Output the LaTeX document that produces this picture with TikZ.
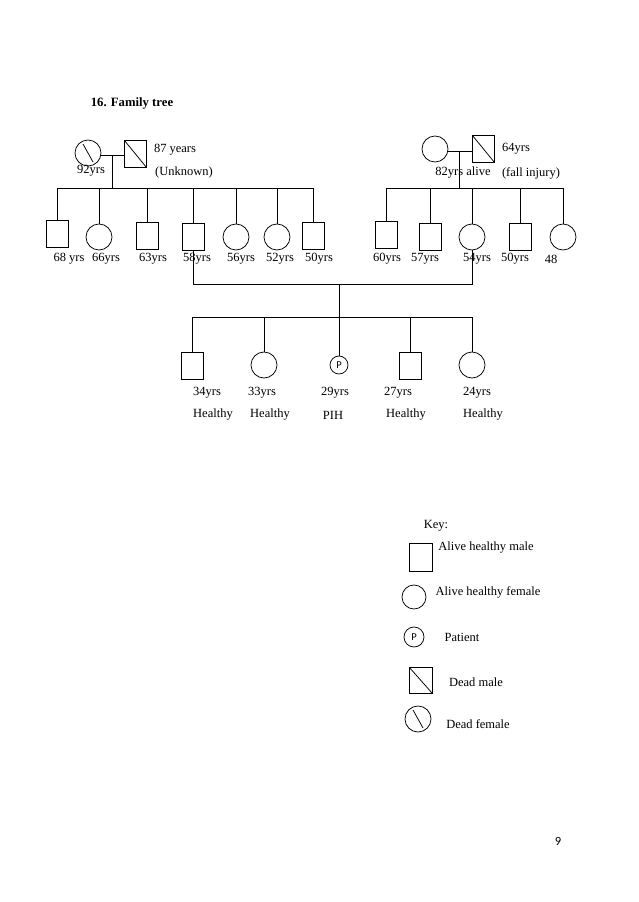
\documentclass[tikz,border=0pt]{standalone}
\usepackage{fontspec}
\setmainfont{Liberation Serif}
\newfontfamily\calib{Carlito}
\begin{document}
\begin{tikzpicture}[x=1pt,y=-1pt,
  every node/.style={inner sep=0pt},
  line width=0.75pt,
  lbl/.style={font=\fontsize{12.5}{14}\selectfont},
  male/.style={draw, rectangle, minimum width=22pt, minimum height=27pt},
  female/.style={draw, circle, minimum size=26pt},
  patient/.style={draw, circle, minimum size=18pt, font=\calib\fontsize{10.5}{11}\selectfont},
  deadmale/.style={male, path picture={\draw (path picture bounding box.north west) -- (path picture bounding box.south east);}},
  deadfemale/.style={female, path picture={\draw ([shift={(-5pt,9pt)}]path picture bounding box.center) -- ([shift={(5pt,-9pt)}]path picture bounding box.center);}}
]
\useasboundingbox[fill=white] (0,0) rectangle (638,902);

% title
\node[font=\bfseries\fontsize{12.7}{14}\selectfont] (title) at (132,103) {16. Family tree};

% left grandparents
\node[deadfemale] (gm1) at (88,153) {};
\node[deadmale] (gf1) at (135.5,154) {};
\coordinate (j1) at (112,155);
\coordinate (bl1) at (57,188);
\coordinate (br1) at (313,188);
\draw (gm1.east |- j1) -- (gf1.west |- j1);
\draw (j1) -- (j1 |- bl1);
\draw (bl1) -- (br1);
\node[lbl] (t92) at (91,171) {92yrs};
\node[lbl] (t87) at (175,150) {87 years};
\node[lbl] (tunk) at (184,172) {(Unknown)};

% left children
\node[male] (c1) at (57.5,234) {};
\node[female] (c2) at (99,237) {};
\node[male] (c3) at (147.5,236) {};
\node[male] (c4) at (193,237) {};
\node[female] (c5) at (236,237) {};
\node[female] (c6) at (277,237) {};
\node[male] (c7) at (313,236) {};
\foreach \n in {c1,c2,c3,c4,c5,c6,c7} \draw (\n.north) -- (\n.north |- bl1);
\node[lbl] (a1) at (69,259) {68 yrs};
\node[lbl] (a2) at (106,259) {66yrs};
\node[lbl] (a3) at (153,259) {63yrs};
\node[lbl] (a4) at (197,259) {58yrs};
\node[lbl] (a5) at (241,259) {56yrs};
\node[lbl] (a6) at (280,259) {52yrs};
\node[lbl] (a7) at (319,259) {50yrs};

% right grandparents
\node[female] (gm2) at (435,149) {};
\node[deadmale] (gf2) at (483.5,149) {};
\coordinate (j2) at (459,151);
\coordinate (bl2) at (386,188);
\coordinate (br2) at (563,188);
\draw (gm2.east |- j2) -- (gf2.west |- j2);
\draw (j2) -- (j2 |- bl2);
\draw (bl2) -- (br2);
\node[lbl] (t64) at (516,149) {64yrs};
\node[lbl] (t82) at (463,173) {82yrs alive};
\node[lbl] (tfall) at (531,173) {(fall injury)};

% right children
\node[male] (d1) at (386,235) {};
\node[male] (d2) at (430,237) {};
\node[female] (d3) at (472,237) {};
\node[male] (d4) at (520,237) {};
\node[female] (d5) at (563,237) {};
\foreach \n in {d1,d2,d3,d4,d5} \draw (\n.north) -- (\n.north |- bl2);
\node[lbl] (b1) at (387,259) {60yrs};
\node[lbl] (b2) at (425,259) {57yrs};
\node[lbl] (b3) at (477,259) {54yrs};
\node[lbl] (b4) at (515,259) {50yrs};
\node[lbl] (b5) at (551,259) {48};

% marriage of c4 and d3
\coordinate (mb) at (339,284);
\coordinate (gl) at (192,317);
\coordinate (gr) at (472,317);
\draw (c4.south) -- (c4.south |- mb) -- (d3.south |- mb) -- (d3.south);
\draw (mb) -- (mb |- gl);
\draw (gl) -- (gr);

% grandchildren
\node[male] (e1) at (192.5,365.5) {};
\node[female] (e2) at (264,365) {};
\node[patient] (e3) at (339,365) {P};
\node[male] (e4) at (410,365.5) {};
\node[female] (e5) at (472,365) {};
\foreach \n in {e1,e2,e3,e4,e5} \draw (\n.north) -- (\n.north |- gl);
\node[lbl] (g1) at (207,393) {34yrs};
\node[lbl] (g2) at (262,393) {33yrs};
\node[lbl] (g3) at (335,393) {29yrs};
\node[lbl] (g4) at (398,393) {27yrs};
\node[lbl] (g5) at (477,393) {24yrs};
\node[lbl] (h1) at (213,415) {Healthy};
\node[lbl] (h2) at (270,415) {Healthy};
\node[lbl] (h3) at (333,415) {PIH};
\node[lbl] (h4) at (406,415) {Healthy};
\node[lbl] (h5) at (483,415) {Healthy};

% key
\node[lbl] (key) at (436,526) {Key:};
\node[male, minimum height=28pt, minimum width=23pt] (k1) at (420.5,557) {};
\node[lbl] (k1t) at (486,548) {Alive healthy male};
\node[female, minimum size=24pt] (k2) at (414,597) {};
\node[lbl] (k2t) at (488,592) {Alive healthy female};
\node[patient, minimum size=20pt] (k3) at (414,637) {P};
\node[lbl] (k3t) at (462,637) {Patient};
\node[deadmale, minimum height=26pt, minimum width=23pt] (k4) at (420.5,680) {};
\node[lbl] (k4t) at (476,682) {Dead male};
\node[deadfemale] (k5) at (418,719) {};
\node[lbl] (k5t) at (478,724) {Dead female};

% page number
\node[font=\calib\fontsize{12.5}{13}\selectfont] (pg) at (558,841) {9};
\end{tikzpicture}
\end{document}
